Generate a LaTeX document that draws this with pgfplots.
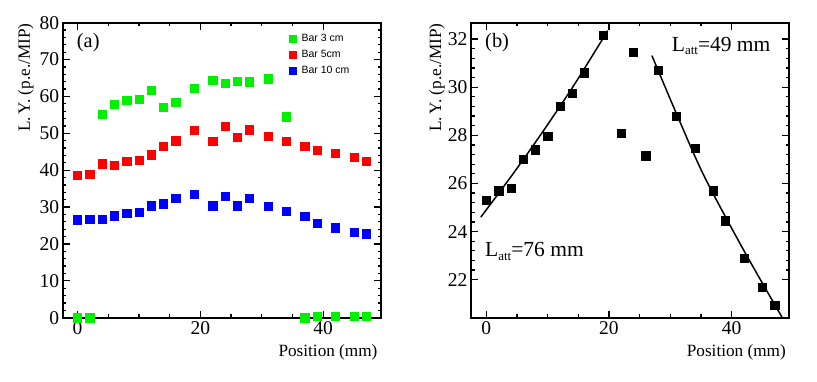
\documentclass[border=0pt]{standalone}
\usepackage{fontspec}
\setmainfont{Liberation Serif}
\setsansfont{Liberation Sans}
\usepackage{pgfplots}
\pgfplotsset{compat=1.18}
\definecolor{rgreen}{RGB}{0,240,0}
\definecolor{rred}{RGB}{255,0,0}
\definecolor{rblue}{RGB}{0,0,255}
\newcommand{\latt}{L\raisebox{-0.35ex}{\fontsize{13}{13}\selectfont att}}
\pgfplotsset{
  rootaxis/.style={
    scale only axis, width=318.3pt, height=295pt,
    axis line style={line width=1.8pt},
    tick align=inside, tick pos=both,
    major tick length=7pt, minor tick length=3.5pt,
    every tick/.style={black, line width=1.3pt},
    /pgf/number format/assume math mode=true,
    tick label style={font=\fontsize{19.5}{20}\selectfont},
    label style={font=\fontsize{17.2}{18}\selectfont},
    xtick={0,20,40}, minor x tick num=3,
    xlabel={Position (mm)},
    xlabel style={at={(axis description cs:1,-0.132)}, anchor=base east},
    ylabel={L.\,Y.\ (p.e./MIP)},
  },
  sq/.style={only marks, mark=square*, mark size=4.15pt, color=#1, mark options={draw=#1, fill=#1}},
}
\begin{document}
\begin{tikzpicture}
\useasboundingbox (0,0) rectangle (817pt,382pt);
% (a) three bars
\begin{axis}[rootaxis,
  at={(62.7pt,64.3pt)}, anchor=south west,
  xmin=-2.4, xmax=49.4, ymin=0, ymax=80,
  ytick={0,10,...,80}, minor y tick num=4,
  clip=false,
  ylabel style={at={(axis description cs:-0.116,1.009)}, anchor=east},
  legend style={draw=none, fill=none, at={(axis description cs:0.712,0.968)}, anchor=north west,
    font=\sffamily\fontsize{10.5}{11}\selectfont, row sep=4.5pt, inner sep=0pt,
    nodes={inner sep=1.5pt}},
  legend cell align=left,
  legend image code/.code={\path[draw=none, fill=none] (-3.5pt,0pt) -- (7pt,0pt);
    \draw[#1, mark size=3.5pt] plot coordinates {(0pt,0pt)};},
]
\addplot[sq=rgreen] coordinates {
(0,0)(2,0)(4,55.2)(6,57.9)(8,59.0)(10,59.2)(12,61.6)(14,57.1)(16,58.4)(19,62.2)
(22,64.4)(24,63.6)(26,64.2)(28,64.0)(31,64.8)(34,54.5)
(37,0)(39,0.5)(42,0.5)(45,0.5)(47,0.5)};
\addlegendentry{Bar 3 cm}
\addplot[sq=rred] coordinates {
(0,38.7)(2,39.0)(4,41.8)(6,41.3)(8,42.4)(10,42.7)(12,44.2)(14,46.6)(16,48.0)(19,50.9)
(22,47.9)(24,52.0)(26,48.9)(28,51.0)(31,49.2)(34,47.8)(37,46.6)(39,45.4)(42,44.7)(45,43.5)(47,42.5)};
\addlegendentry{Bar 5cm}
\addplot[sq=rblue] coordinates {
(0,26.6)(2,26.7)(4,26.7)(6,27.7)(8,28.3)(10,28.6)(12,30.4)(14,30.9)(16,32.5)(19,33.4)
(22,30.4)(24,33.0)(26,30.4)(28,32.5)(31,30.3)(34,28.8)(37,27.6)(39,25.7)(42,24.4)(45,23.1)(47,22.8)};
\addlegendentry{Bar 10 cm}
\node[anchor=base west, font=\fontsize{20.4}{21}\selectfont, inner sep=0pt] at (rel axis cs:0.044,0.917) {(a)};
\end{axis}
% (b) attenuation fit
\begin{axis}[rootaxis,
  at={(471pt,64.3pt)}, anchor=south west,
  xmin=-2.5, xmax=49.4, ymin=20.42, ymax=32.68,
  ytick={22,24,...,32}, minor y tick num=4,
  ylabel style={at={(axis description cs:-0.107,1.009)}, anchor=east},
]
\addplot[sq=black] coordinates {
(0,25.3)(2,25.7)(4,25.8)(6,27.0)(8,27.4)(10,27.95)(12,29.2)(14,29.75)(16,30.6)(19,32.15)
(22,28.1)(24,31.45)(26,27.15)(28,30.7)(31,28.8)(34,27.45)(37,25.7)(39,24.45)(42,22.9)(45,21.7)(47,20.95)};
\addplot[black, line width=1.5pt, smooth] coordinates {
(-0.9,24.6)(4.5,26.45)(9.5,28.26)(14.5,30.17)(19.8,32.35)};
\addplot[black, line width=1.5pt, smooth] coordinates {
(27.0,31.31)(31.5,28.6)(35.6,26.26)(41.8,23.3)(48.3,20.4)};
\node[anchor=base west, font=\fontsize{20.4}{21}\selectfont, inner sep=0pt] at (rel axis cs:0.044,0.917) {(b)};
\node[anchor=base west, font=\fontsize{21.5}{22}\selectfont, inner sep=0pt] at (rel axis cs:0.6305,0.904) {\latt=49 mm};
\node[anchor=base west, font=\fontsize{21.5}{22}\selectfont, inner sep=0pt] at (rel axis cs:0.044,0.2068) {\latt=76 mm};
\end{axis}
\end{tikzpicture}
\end{document}
